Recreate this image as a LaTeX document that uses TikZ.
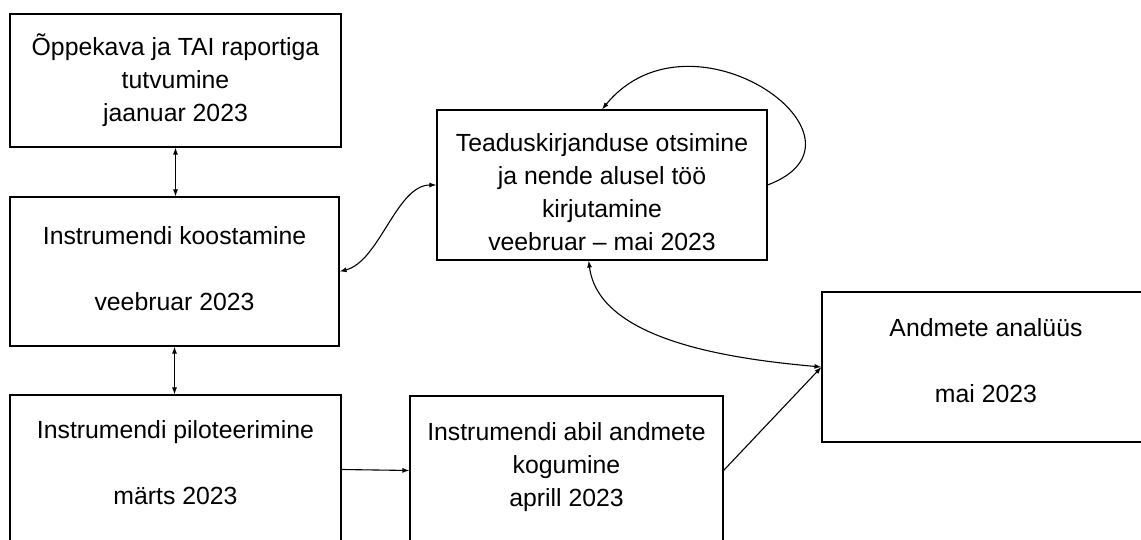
\documentclass[tikz,border=0pt]{standalone}
\usepackage{fontspec}
\setmainfont{Liberation Sans}
\usetikzlibrary{arrows.meta}

\begin{document}
\begin{tikzpicture}[x=1pt, y=1pt, line width=1.1pt,
    >={Latex[length=7pt,width=5pt]},
    box/.style={draw, rectangle, align=center, inner sep=0pt,
      font=\fontsize{24.8}{33}\selectfont}]
      \useasboundingbox (0, 0) rectangle (1141, 540);
      \clip (0, 0) rectangle (1141, 540);
      \node [box, minimum width=331, minimum height=133] (oppekava) at (175.5, 459.5)
        {Õppekava ja TAI raportiga\\tutvumine\\jaanuar 2023};
      \node [box, minimum width=329, minimum height=149, text depth=6pt] (koostamine) at (174.5, 268.5)
        {Instrumendi koostamine\\[33pt]veebruar 2023};
      \node [box, minimum width=331, minimum height=149, text depth=14pt] (piloteerimine) at (175.5, 70.5)
        {Instrumendi piloteerimine\\[33pt]märts 2023};
      \node [box, minimum width=330, minimum height=150, text height=131pt] (kirjandus) at (602, 355)
        {Teaduskirjanduse otsimine\\ja nende alusel töö\\kirjutamine\\veebruar -- mai 2023};
      \node [box, minimum width=313, minimum height=149, text depth=11pt] (kogumine) at (566.5, 69.5)
        {Instrumendi abil andmete\\kogumine\\aprill 2023};
      \node [box, minimum width=328, minimum height=150, text depth=13pt] (analyys) at (986, 173)
        {Andmete analüüs\\[33pt]mai 2023};
      \draw [<->] (oppekava.south) -- (oppekava.south |- koostamine.north);
      \draw [<->] (koostamine.south) -- (koostamine.south |- piloteerimine.north);
      \draw [<->] (koostamine.east) .. controls +(40, 10) and +(-40, 0) .. (kirjandus.west);
      \draw [->] (kirjandus.east) .. controls +(120, 45) and +(90, 110) .. (kirjandus.north);
      \draw [<->] (kirjandus.260) .. controls +(10, -80) and +(-90, 8) .. (analyys.west);
      \draw [->] (piloteerimine.east) -- (kogumine.west);
      \draw [->] (kogumine.east) -- (analyys.west);
    \end{tikzpicture}
\end{document}
